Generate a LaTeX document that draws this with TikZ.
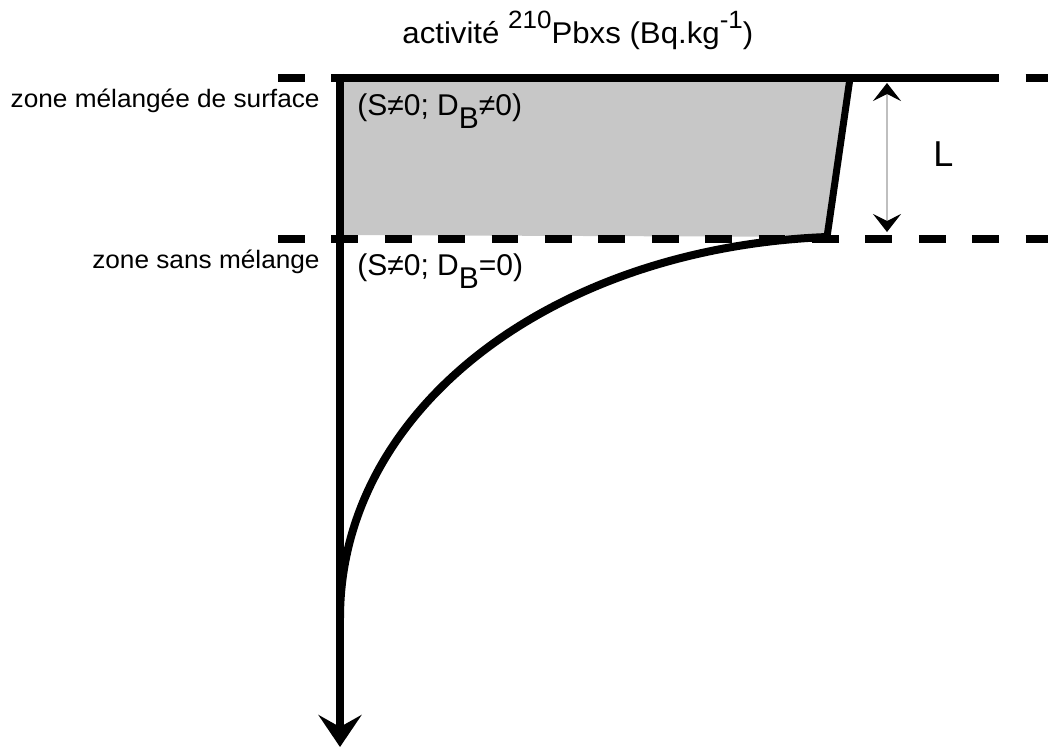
\documentclass[tikz,border=0pt]{standalone}
\usepackage{fontspec}
\setmainfont{Liberation Sans}
\newfontfamily\etire[FakeStretch=1.04]{Liberation Sans}
\usetikzlibrary{arrows.meta}
\newcommand\expo[1]{\raisebox{7.5pt}{\fontsize{12.5}{14}\selectfont #1}}
\newcommand\indice[1]{\raisebox{-6.5pt}{#1}}
\tikzset{
  trait/.style={line width=4.2pt},
  tirets/.style={line width=4.2pt, dash pattern=on 13.35pt off 13.35pt},
  zone/.style={inner sep=0pt, font=\etire\fontsize{12.6}{15}\selectfont,
               anchor=base east},
  regime/.style={inner sep=0pt, font=\fontsize{15}{17}\selectfont,
                 anchor=base west},
  fleche/.style={-{Stealth[length=16pt,width=21.5pt,inset=6pt]},
                 line width=4.4pt},
  cote/.style={{Stealth[length=9pt,width=14pt,inset=3.5pt,black]}-{Stealth[length=9pt,width=14pt,inset=3.5pt,black]},
               draw=black!25, line width=0.6pt}
}

\begin{document}
\begin{tikzpicture}[x=0.5pt, y=-0.5pt]
  \useasboundingbox (0,0) rectangle (1048,749);
  % reperes
  \coordinate (hautG) at (278,78);
  \coordinate (hautD) at (1048,78);
  \coordinate (basG) at (278,239);
  \coordinate (basD) at (1048,239);
  \coordinate (solA) at (333,78);
  \coordinate (solB) at (995,78);
  \coordinate (origine) at (340,74);
  \coordinate (fond) at (340,747);
  \coordinate (surfD) at (850,78);
  \coordinate (mixD) at (827,237);
  \coordinate (profil) at (340,618);
  \coordinate (Lh) at (887,83);
  \coordinate (Lb) at (887,232);

  % zone melangee
  \fill[black!22] (340,80) -- (surfD) -- (mixD) -- (340,235) -- cycle;

  % limites
  \draw[tirets] (hautG) -- (hautD);
  \draw[tirets] (basG) -- (basD);
  \draw[trait] (solA) -- (solB);

  % profil d'activite
  \draw[line width=3.5pt] (surfD) -- (mixD);
  \draw[line width=4pt] (mixD) .. controls (550,248) and (340,410) .. (profil);
  \draw[fleche] (origine) -- (fond);
  \draw[cote] (Lh) -- (Lb);

  % textes
  \node[inner sep=0pt, anchor=base west, font=\etire\fontsize{15}{18}\selectfont]
    (titre) at (402,44) {activité \expo{210}Pbxs (Bq.kg\expo{-1})};
  \node[zone] (zsurf) at (320,107) {zone mélangée de surface};
  \node[zone] (zsans) at (320,268) {zone sans mélange};
  \node[regime] (rsurf) at (357,115) {(S≠0; D\indice{B}≠0)};
  \node[regime] (rsans) at (357,275) {(S≠0; D\indice{B}=0)};
  \node[inner sep=0pt, anchor=base west, font=\fontsize{18}{21}\selectfont]
    (long) at (933,166) {L};
\end{tikzpicture}
\end{document}
